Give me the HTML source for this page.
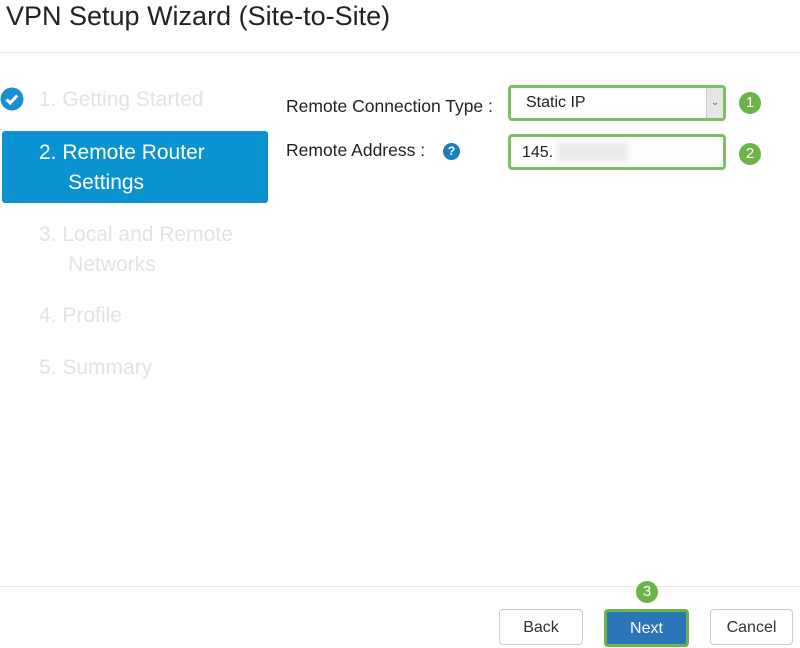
<!DOCTYPE html>
<html><head><style>
*{margin:0;padding:0;box-sizing:border-box}
body{width:800px;height:648px;background:#fff;font-family:"Liberation Sans",sans-serif;position:relative;overflow:hidden}
.a{position:absolute;white-space:nowrap}
.g{color:#e3e3e3;font-size:21px}
.badge{position:absolute;width:22px;height:22px;border-radius:50%;background:#6cb34a;color:#fff;font-size:15px;text-align:center;line-height:22px}
.btn{position:absolute;height:36px;border:1px solid #ccc;border-radius:4px;background:#fff;font-size:16px;text-align:center;line-height:34px;color:#333}
</style></head><body>
<div class="a" style="left:6px;top:0px;font-size:27px;color:#222;line-height:32px">VPN Setup Wizard (Site-to-Site)</div>
<div class="a" style="left:0;top:52px;width:800px;height:1px;background:#e6e6e6"></div>
<svg class="a" style="left:0;top:87px" width="24" height="24"><circle cx="12" cy="12" r="11.5" fill="#1a8fd0"/><path d="M6.5 12.5l3.7 3.5 7-7.5" stroke="#fff" stroke-width="3" fill="none"/></svg>
<div class="a g" style="left:39px;top:88px">1. Getting Started</div>
<div class="a" style="left:2px;top:131px;width:266px;height:72px;background:#0b92d0;border-radius:3px"></div>
<div class="a" style="left:39px;top:138px;color:#fff;font-size:21px;line-height:30px">2. Remote Router<br>&nbsp;&nbsp;&nbsp;&nbsp;&nbsp;Settings</div>
<div class="a g" style="left:39px;top:220px;line-height:30px">3. Local and Remote<br>&nbsp;&nbsp;&nbsp;&nbsp;&nbsp;Networks</div>
<div class="a g" style="left:39px;top:304px">4. Profile</div>
<div class="a g" style="left:39px;top:356px">5. Summary</div>
<div class="a" style="left:286px;top:96px;font-size:17.5px;color:#222">Remote Connection Type :</div>
<div class="a" style="left:286px;top:140px;font-size:17.5px;color:#222">Remote Address :</div>
<div class="a" style="left:443px;top:143px;width:17px;height:17px;border-radius:50%;background:#1a7fb8;color:#fff;font-size:12px;font-weight:bold;text-align:center;line-height:17px">?</div>
<div class="a" style="left:508px;top:85px;width:218px;height:36px;border:3px solid #7cc061;border-radius:4px;background:#fff"></div>
<div class="a" style="left:706px;top:88px;width:17px;height:30px;background:#e6e6e6;border-left:1px solid #ccc;font-size:10px;color:#666;text-align:center;line-height:30px">⌄</div>
<div class="a" style="left:526px;top:94px;font-size:16px;color:#222">Static IP</div>
<div class="a" style="left:508px;top:134px;width:218px;height:36px;border:3px solid #7cc061;border-radius:4px;background:#fff"></div>
<div class="a" style="left:522px;top:144px;font-size:16px;color:#222">145.</div>
<div class="a" style="left:557px;top:142px;width:72px;height:20px;background:#ececec;filter:blur(3px)"></div>
<div class="badge" style="left:739px;top:92px">1</div>
<div class="badge" style="left:739px;top:143px">2</div>
<div class="a" style="left:0;top:586px;width:800px;height:1px;background:#e6e6e6"></div>
<div class="badge" style="left:636px;top:581px;width:22px;height:22px">3</div>
<div class="btn" style="left:499px;top:609px;width:84px;line-height:36px">Back</div>
<div class="btn" style="left:604px;top:609px;width:85px;height:38px;background:#2a76b8;border:3px solid #6cb34a;color:#fff;line-height:34px">Next</div>
<div class="btn" style="left:710px;top:609px;width:83px;line-height:36px">Cancel</div>
</body></html>
